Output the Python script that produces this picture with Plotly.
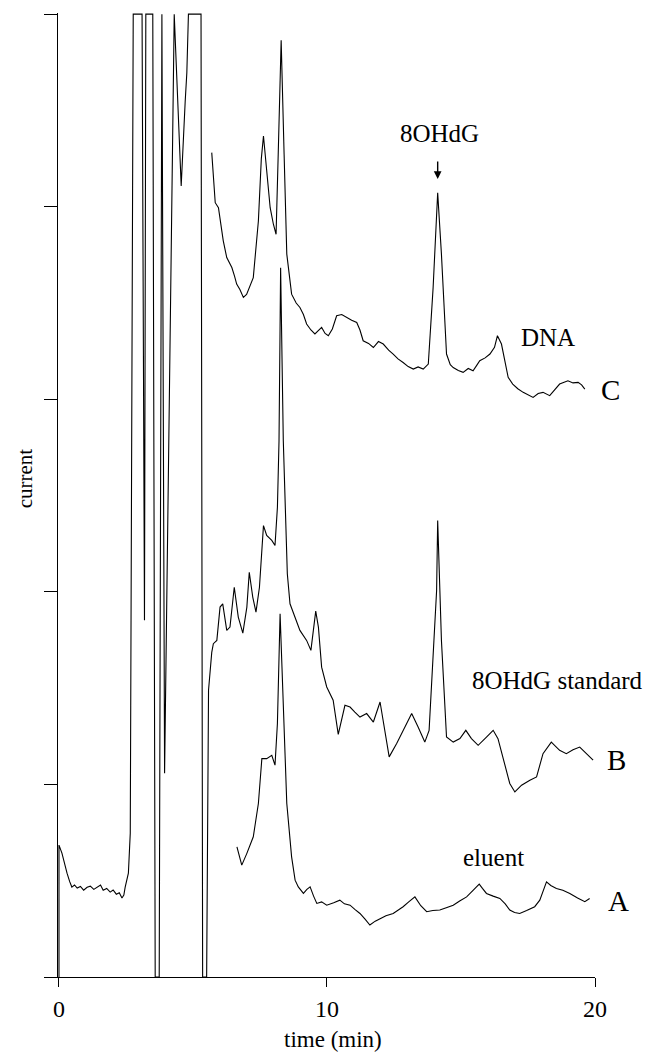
import plotly.graph_objects as go

# ---- data (time in min, current in arbitrary units) ----
front_t = [0.00, 0.00, 0.11, 0.20, 0.30, 0.40, 0.48, 0.58, 0.68, 0.80, 0.92, 1.05, 1.17, 1.30, 1.42, 1.55,
           1.65, 1.78, 1.91, 2.02, 2.14, 2.25, 2.35, 2.42, 2.47, 2.59, 2.66, 2.77, 3.10, 3.19, 3.24,
           3.50, 3.59, 3.74, 3.84, 3.94, 4.30, 4.56, 4.71, 4.77, 4.83, 5.30, 5.36, 5.51]
front_v = [0.00, 0.685, 0.643, 0.590, 0.539, 0.495, 0.467, 0.478, 0.462, 0.470, 0.451, 0.466, 0.472, 0.455,
           0.467, 0.478, 0.451, 0.460, 0.441, 0.452, 0.430, 0.438, 0.410, 0.425, 0.467, 0.539, 0.747, 5.0,
           5.0, 1.852, 5.0, 5.0, 0.0, 0.0, 5.0, 1.058, 5.0, 4.108, 4.549, 4.694, 5.0, 5.0, 0.0, 0.0]

c_t = [5.70, 5.83, 5.95, 6.05, 6.13, 6.26, 6.36, 6.45, 6.55, 6.63, 6.75, 6.88, 7.00, 7.13, 7.25, 7.44,
       7.55, 7.63, 7.70, 7.75, 7.88, 8.00, 8.10, 8.18, 8.29, 8.40, 8.50, 8.68, 8.85, 8.99, 9.12, 9.24,
       9.40, 9.55, 9.68, 9.80, 9.93, 10.05, 10.20, 10.36, 10.55, 10.73, 10.92, 11.11, 11.23, 11.35, 11.55,
       11.73, 11.92, 12.10, 12.30, 12.47, 12.65, 12.84, 13.03, 13.22, 13.40, 13.59, 13.78, 13.96, 14.13,
       14.27, 14.46, 14.60, 14.71, 14.90, 15.08, 15.27, 15.45, 15.58, 15.70, 15.90, 16.08, 16.25, 16.36,
       16.51, 16.76, 16.93, 17.12, 17.32, 17.50, 17.69, 17.88, 18.06, 18.31, 18.50, 18.68, 18.99, 19.18,
       19.37, 19.50, 19.62]
c_v = [4.281, 4.021, 3.995, 3.900, 3.823, 3.736, 3.712, 3.684, 3.640, 3.598, 3.570, 3.529, 3.545, 3.589,
       3.632, 3.926, 4.250, 4.367, 4.250, 4.169, 3.995, 3.909, 3.857, 4.272, 4.864, 4.272, 3.754, 3.546,
       3.500, 3.477, 3.440, 3.391, 3.360, 3.339, 3.355, 3.373, 3.342, 3.330, 3.365, 3.434, 3.440, 3.425,
       3.410, 3.399, 3.360, 3.304, 3.290, 3.269, 3.300, 3.287, 3.255, 3.235, 3.210, 3.191, 3.170, 3.157,
       3.168, 3.157, 3.183, 3.580, 4.073, 3.754, 3.235, 3.180, 3.165, 3.150, 3.140, 3.160, 3.148, 3.175,
       3.200, 3.215, 3.235, 3.270, 3.330, 3.287, 3.114, 3.079, 3.055, 3.036, 3.022, 3.010, 3.030, 3.036,
       3.019, 3.050, 3.079, 3.096, 3.085, 3.088, 3.075, 3.053]

b_t = [5.51, 5.57, 5.58, 5.70, 5.76, 5.89, 6.01, 6.11, 6.26, 6.38, 6.54, 6.69, 6.86, 7.01, 7.10, 7.23,
       7.35, 7.48, 7.63, 7.75, 7.94, 8.06, 8.15, 8.21, 8.27, 8.37, 8.52, 8.62, 8.81, 8.99, 9.24, 9.40,
       9.58, 9.68, 9.80, 9.99, 10.23, 10.42, 10.67, 10.86, 11.04, 11.23, 11.48, 11.73, 11.98, 12.10,
       12.32, 12.60, 12.91, 13.16, 13.40, 13.65, 13.81, 13.96, 14.09, 14.13, 14.27, 14.46, 14.71, 14.96,
       15.18, 15.39, 15.64, 15.95, 16.20, 16.38, 16.57, 16.82, 17.01, 17.26, 17.57, 17.82, 18.06, 18.37,
       18.68, 18.93, 19.18, 19.43, 19.68, 19.93]
b_v = [0.00, 0.918, 1.489, 1.686, 1.731, 1.748, 1.921, 1.938, 1.800, 1.817, 2.024, 1.869, 1.786, 1.921,
       2.102, 1.973, 1.895, 2.024, 2.344, 2.293, 2.267, 2.241, 2.439, 2.785, 3.683, 2.785, 2.094, 1.938,
       1.869, 1.800, 1.748, 1.696, 1.900, 1.817, 1.609, 1.506, 1.437, 1.260, 1.411, 1.402, 1.376, 1.350,
       1.368, 1.324, 1.428, 1.333, 1.143, 1.212, 1.298, 1.368, 1.298, 1.220, 1.281, 1.661, 2.007, 2.370,
       1.748, 1.246, 1.220, 1.238, 1.281, 1.238, 1.203, 1.246, 1.281, 1.238, 1.143, 1.005, 0.961, 0.996,
       1.022, 1.039, 1.160, 1.220, 1.177, 1.160, 1.180, 1.194, 1.160, 1.126]

a_t = [6.64, 6.82, 7.01, 7.25, 7.44, 7.57, 7.75, 7.94, 8.06, 8.15, 8.25, 8.37, 8.50, 8.68, 8.81, 8.93,
       9.12, 9.25, 9.37, 9.50, 9.62, 9.80, 9.99, 10.25, 10.48, 10.65, 10.86, 11.05, 11.23, 11.42, 11.60,
       11.80, 11.98, 12.20, 12.47, 12.65, 12.84, 13.05, 13.28, 13.50, 13.72, 13.95, 14.21, 14.45, 14.71,
       14.95, 15.21, 15.45, 15.68, 15.80, 15.95, 16.20, 16.45, 16.65, 16.82, 17.00, 17.19, 17.45, 17.75,
       17.94, 18.19, 18.35, 18.56, 18.80, 19.06, 19.35, 19.62, 19.80]
a_v = [0.676, 0.581, 0.642, 0.728, 0.901, 1.134, 1.134, 1.151, 1.100, 1.316, 1.886, 1.402, 0.901, 0.624,
       0.503, 0.468, 0.434, 0.455, 0.468, 0.420, 0.382, 0.390, 0.373, 0.385, 0.399, 0.380, 0.373, 0.350,
       0.330, 0.300, 0.270, 0.290, 0.304, 0.318, 0.330, 0.345, 0.365, 0.390, 0.416, 0.370, 0.339, 0.345,
       0.348, 0.360, 0.373, 0.395, 0.416, 0.450, 0.482, 0.460, 0.434, 0.420, 0.408, 0.380, 0.348, 0.335,
       0.330, 0.345, 0.365, 0.399, 0.494, 0.475, 0.460, 0.450, 0.434, 0.410, 0.391, 0.408]

x_ticks = [0, 10, 20]
y_ticks = [0, 1, 2, 3, 4, 5]

FONT = "Liberation Serif"
line = dict(color="black", width=1.1)

fig = go.Figure()
for tt, vv in [(front_t, front_v), (c_t, c_v), (b_t, b_v), (a_t, a_v)]:
    fig.add_trace(go.Scatter(x=tt, y=vv, mode="lines", line=line, showlegend=False, hoverinfo="skip"))

W, H = 662, 1052
OFF = 8  # page body margin of the browser
# desired plot-area edges on screen (pixels)
PL, PR, PT, PB = 46.7, 595.3, 13.0, 977.0
L, R, T, B = PL - OFF, OFF + W - PR, PT - OFF, OFF + H - PB
PW, PH = PR - PL, PB - PT


def px(xp, yp):
    """screen pixel position -> paper coordinates of the plot area"""
    return (xp - PL) / PW, (PB - yp) / PH


fig.update_layout(
    width=W, height=H, margin=dict(l=L, r=R, t=T, b=B, autoexpand=False),
    paper_bgcolor="white", plot_bgcolor="white",
    font=dict(family=FONT, color="black", size=22),
    xaxis=dict(range=[-0.447, 20.0], tickvals=x_ticks, ticktext=[str(v) for v in x_ticks],
               showgrid=False, zeroline=False, showline=True, linecolor="black", linewidth=1.3,
               ticks="outside", ticklen=9, tickwidth=1.2, tickcolor="black", automargin=False,
               tickfont=dict(family=FONT, size=24, color="black"), ticklabelstandoff=1),
    yaxis=dict(range=[0, 5.006], tickvals=y_ticks, showticklabels=False, automargin=False,
               showgrid=False, zeroline=False, showline=True, linecolor="black", linewidth=1.3,
               ticks="outside", ticklen=13, tickwidth=1.3, tickcolor="black",
               anchor="free", position=0.0188),
)

ann = [
    dict(x=14.21, y=4.378, text="8OHdG", size=25),
    dict(x=18.24, y=3.319, text="DNA", size=25),
    dict(x=16.23, y=0.622, text="eluent", size=25),
]
for a in ann:
    fig.add_annotation(x=a["x"], y=a["y"], xref="x", yref="y", text=a["text"], showarrow=False,
                       xanchor="center", yanchor="middle",
                       font=dict(family=FONT, size=a["size"], color="black"))
fig.add_annotation(x=15.33, y=1.540, xref="x", yref="y", text="8OHdG standard", showarrow=False,
                   xanchor="left", yanchor="middle", font=dict(family=FONT, size=25, color="black"))
# trace letters (right of the plot area)
for lab, xp, yp in [("C", 611, 390), ("B", 617, 760), ("A", 619, 901)]:
    ax_, ay_ = px(xp, yp)
    fig.add_annotation(x=ax_, y=ay_, xref="paper", yref="paper", text=lab, showarrow=False,
                       xanchor="center", yanchor="middle",
                       font=dict(family=FONT, size=29, color="black"))
# arrow pointing at the 8OHdG peak
fig.add_annotation(x=14.13, y=4.144, xref="x", yref="y", text="", showarrow=True,
                   ax=0, ay=-19, arrowhead=2, arrowsize=1.1, arrowwidth=1.4, arrowcolor="black", standoff=0)
# axis titles
tx, ty = px(333, 1039)
fig.add_annotation(x=tx, y=ty, xref="paper", yref="paper", text="time (min)",
                   xanchor="center", yanchor="middle",
                   showarrow=False, font=dict(family=FONT, size=23, color="black"))
cx, cy = px(25, 478)
fig.add_annotation(x=cx, y=cy, xref="paper", yref="paper", text="current", textangle=-90,
                   xanchor="center", yanchor="middle",
                   showarrow=False, font=dict(family=FONT, size=21, color="black"))

fig.write_html("out.html")
